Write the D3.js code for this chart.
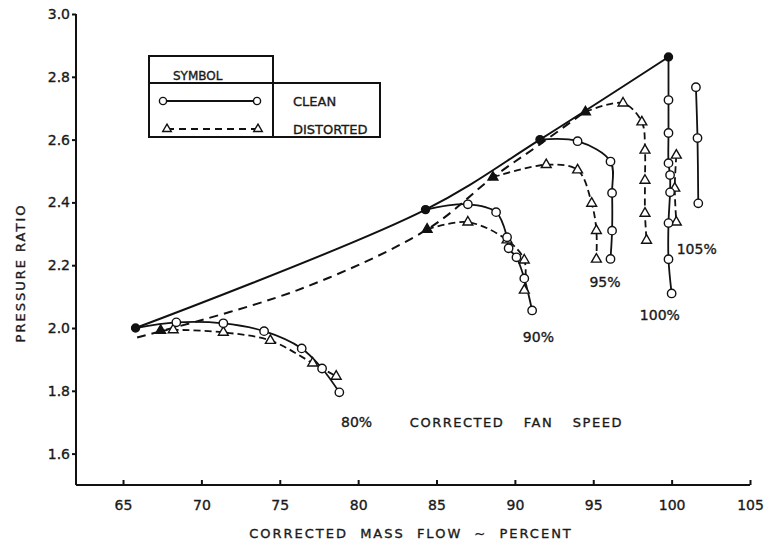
<!DOCTYPE html>
<html>
<head>
<meta charset="utf-8">
<script src="https://cdn.jsdelivr.net/npm/d3@7"></script>
<style>
  body { margin: 0; background: #fff; }
  svg text { font-family: "DejaVu Sans", sans-serif; fill: #1a1a1a; stroke: #1a1a1a; stroke-width: 0.35px; }
  .axis path, .axis line { stroke: #111; stroke-width: 2; }
  .axis text { font-size: 14px; }
</style>
</head>
<body>
<div id="chart"></div>
<script>
// ---- data (x = corrected mass flow %, y = pressure ratio) ----
var xTicks = [65, 70, 75, 80, 85, 90, 95, 100, 105];
var yTicks = [1.6, 1.8, 2.0, 2.2, 2.4, 2.6, 2.8, 3.0];

// first point of each speed line is the surge point (filled marker)
var clean80  = [[65.8,2.0],[68.4,2.018],[71.4,2.015],[74.0,1.99],[76.4,1.935],[77.7,1.871],[78.8,1.795]];
var clean90  = [[84.3,2.377],[87.0,2.394],[88.8,2.369],[89.5,2.289],[89.6,2.254],[90.1,2.225],[90.6,2.158],[91.1,2.056]];
var clean95  = [[91.6,2.6],[94.0,2.595],[96.1,2.53],[96.2,2.43],[96.2,2.31],[96.1,2.22]];
var clean100 = [[99.8,2.863],[99.8,2.726],[99.8,2.621],[99.8,2.525],[99.9,2.487],[99.9,2.432],[99.8,2.334],[99.8,2.219],[100.0,2.11]];
var clean105 = [[101.55,2.767],[101.65,2.605],[101.7,2.397]];

var dist80  = [[67.4,1.992],[68.2,1.994],[71.4,1.986],[74.4,1.96],[77.1,1.888],[78.6,1.846]];
var dist90  = [[84.4,2.314],[87.0,2.337],[89.5,2.28],[90.6,2.216],[90.6,2.12]];
var dist95  = [[88.6,2.48],[92.0,2.52],[94.0,2.503],[94.9,2.397],[95.2,2.31],[95.2,2.219]];
var dist100 = [[94.5,2.688],[96.9,2.716],[98.1,2.656],[98.3,2.566],[98.3,2.47],[98.3,2.365],[98.4,2.279]];
var dist105 = [[100.3,2.55],[100.2,2.445],[100.3,2.337]];

var surgeClean = [[65.8,2.0],[84.3,2.377],[91.6,2.6],[99.8,2.863]];
var surgeDist  = [[65.9,1.97],[76.1,2.12],[84.4,2.314],[88.6,2.48],[91.6,2.585],[94.5,2.69]];

var speedLabels = [
  {text: "80%",  x: 79.9,  y: 1.70},
  {text: "90%",  x: 91.5,  y: 1.97},
  {text: "95%",  x: 95.75, y: 2.145},
  {text: "100%", x: 99.25, y: 2.04},
  {text: "105%", x: 101.6, y: 2.25}
];

var svg = d3.select("#chart").append("svg")
    .attr("width", 764)
    .attr("height", 548);

var x = d3.scaleLinear().domain([62, 105]).range([76, 750]);
var y = d3.scaleLinear().domain([1.5, 3.0]).range([485, 14]);

// axes
svg.append("g")
    .attr("class", "axis")
    .attr("transform", "translate(0," + y(1.5) + ")")
    .call(d3.axisBottom(x).tickValues(xTicks).tickSizeInner(-5).tickSizeOuter(0).tickPadding(12))
    .call(function(g) { g.select(".domain").attr("d", "M" + x(62) + ",0H" + x(105)); })
    .selectAll("text").attr("dy", "0.9em");

svg.append("g")
    .attr("class", "axis")
    .attr("transform", "translate(" + x(62) + ",0)")
    .call(d3.axisLeft(y).tickValues(yTicks).tickSizeInner(4).tickSizeOuter(0).tickPadding(2)
      .tickFormat(d3.format(".1f")))
    .call(function(g) { g.select(".domain").attr("d", "M0," + y(3.0) + "V" + y(1.5)); });

svg.append("text")
    .attr("x", 411).attr("y", 538)
    .attr("text-anchor", "middle")
    .style("font-size", "13px")
    .style("letter-spacing", "2px")
    .style("word-spacing", "6px")
    .text("CORRECTED MASS FLOW ~ PERCENT");

svg.append("text")
    .attr("transform", "translate(25,273) rotate(-90)")
    .attr("text-anchor", "middle")
    .style("font-size", "13px")
    .style("letter-spacing", "2px")
    .text("PRESSURE    RATIO");

var smooth = d3.line()
    .x(function(d) { return x(d[0]); })
    .y(function(d) { return y(d[1]); })
    .curve(d3.curveCatmullRom.alpha(0.5));

// surge lines
svg.append("path").datum(surgeClean)
    .attr("d", smooth).attr("fill", "none").attr("stroke", "#111").attr("stroke-width", 2);
svg.append("path").datum(surgeDist)
    .attr("d", smooth).attr("fill", "none").attr("stroke", "#111").attr("stroke-width", 2)
    .attr("stroke-dasharray", "9,6");

var cleanSeries = [
  {pts: clean80, surge: true}, {pts: clean90, surge: true}, {pts: clean95, surge: true},
  {pts: clean100, surge: true}, {pts: clean105, surge: false}
];
var distSeries = [
  {pts: dist80, surge: true}, {pts: dist90, surge: true}, {pts: dist95, surge: true},
  {pts: dist100, surge: true}, {pts: dist105, surge: false}
];

var tri = d3.symbol().type(d3.symbolTriangle).size(42);

distSeries.forEach(function(s) {
  svg.append("path").datum(s.pts)
      .attr("d", smooth).attr("fill", "none").attr("stroke", "#111").attr("stroke-width", 1.8)
      .attr("stroke-dasharray", "7,4");
});
cleanSeries.forEach(function(s) {
  svg.append("path").datum(s.pts)
      .attr("d", smooth).attr("fill", "none").attr("stroke", "#111").attr("stroke-width", 1.8);
});

distSeries.forEach(function(s) {
  svg.selectAll(null).data(s.pts).enter().append("path")
      .attr("d", tri)
      .attr("transform", function(d) { return "translate(" + x(d[0]) + "," + y(d[1]) + ")"; })
      .attr("fill", function(d, i) { return (s.surge && i === 0) ? "#111" : "#fff"; })
      .attr("stroke", "#111").attr("stroke-width", 1.4);
});
cleanSeries.forEach(function(s) {
  svg.selectAll(null).data(s.pts).enter().append("circle")
      .attr("cx", function(d) { return x(d[0]); })
      .attr("cy", function(d) { return y(d[1]); })
      .attr("r", function(d, i) { return (s.surge && i === 0) ? 4 : 4.2; })
      .attr("fill", function(d, i) { return (s.surge && i === 0) ? "#111" : "#fff"; })
      .attr("stroke", "#111").attr("stroke-width", 1.4);
});

// speed labels
svg.selectAll(".speed").data(speedLabels).enter().append("text")
    .attr("class", "speed")
    .attr("x", function(d) { return x(d.x); })
    .attr("y", function(d) { return y(d.y); })
    .attr("text-anchor", "middle")
    .attr("dy", "0.35em")
    .style("font-size", "14px")
    .text(function(d) { return d.text; });

svg.append("text")
    .attr("x", x(83.3)).attr("y", y(1.70))
    .attr("dy", "0.35em")
    .style("font-size", "13px")
    .style("letter-spacing", "1.5px")
    .style("word-spacing", "14px")
    .text("CORRECTED FAN SPEED");

// legend
var lg = svg.append("g").attr("class", "legend");
lg.append("rect").attr("x", 149).attr("y", 56).attr("width", 124).attr("height", 81)
    .attr("fill", "none").attr("stroke", "#111").attr("stroke-width", 2);
lg.append("rect").attr("x", 273).attr("y", 83).attr("width", 107).attr("height", 54)
    .attr("fill", "none").attr("stroke", "#111").attr("stroke-width", 2);
lg.append("line").attr("x1", 149).attr("x2", 273).attr("y1", 83).attr("y2", 83)
    .attr("stroke", "#111").attr("stroke-width", 2);
lg.append("text").attr("x", 173).attr("y", 80).style("font-size", "12px").text("SYMBOL");

lg.append("line").attr("x1", 163).attr("x2", 257).attr("y1", 101).attr("y2", 101)
    .attr("stroke", "#111").attr("stroke-width", 1.8);
[163, 257].forEach(function(cx) {
  lg.append("circle").attr("cx", cx).attr("cy", 101).attr("r", 3.6)
      .attr("fill", "#fff").attr("stroke", "#111").attr("stroke-width", 1.4);
});
lg.append("line").attr("x1", 167).attr("x2", 258).attr("y1", 129).attr("y2", 129)
    .attr("stroke", "#111").attr("stroke-width", 1.8).attr("stroke-dasharray", "7,5");
[167, 258].forEach(function(cx) {
  lg.append("path").attr("d", d3.symbol().type(d3.symbolTriangle).size(32))
      .attr("transform", "translate(" + cx + ",129)")
      .attr("fill", "#fff").attr("stroke", "#111").attr("stroke-width", 1.4);
});
lg.append("text").attr("x", 293).attr("y", 106).style("font-size", "13px").text("CLEAN");
lg.append("text").attr("x", 293).attr("y", 134).style("font-size", "13px").text("DISTORTED");
</script>
</body>
</html>
